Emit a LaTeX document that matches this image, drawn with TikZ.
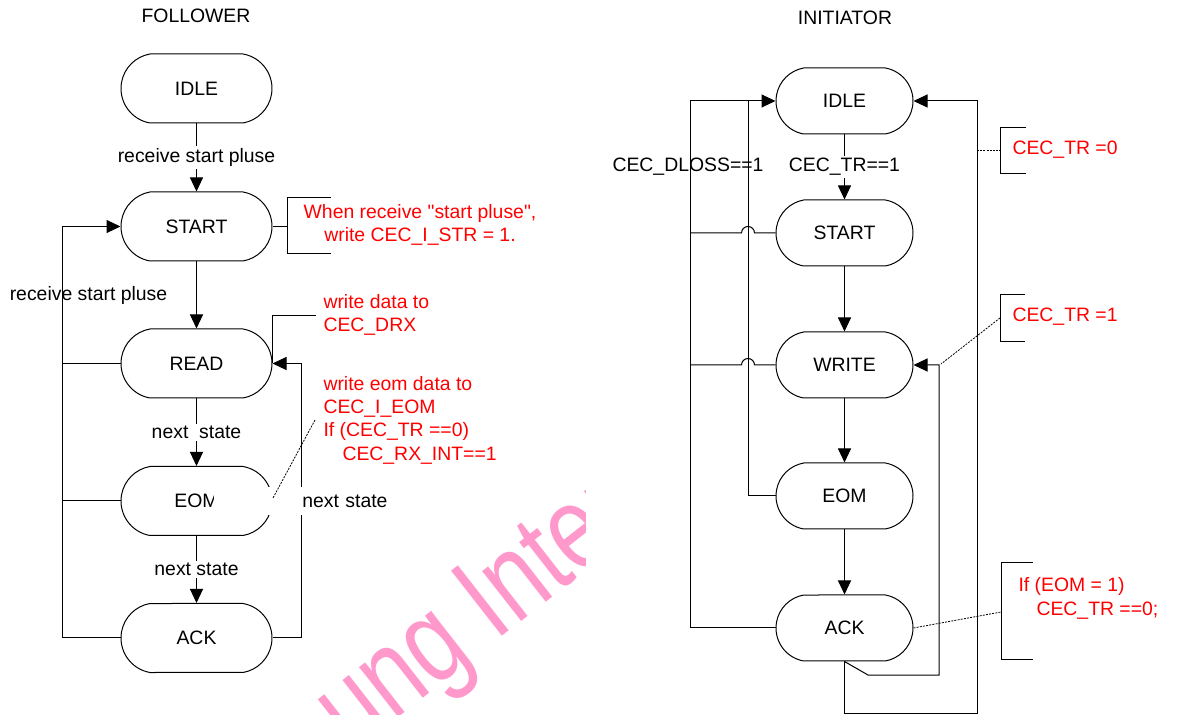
\documentclass[tikz,border=0pt]{standalone}
\usepackage{fontspec}
\setmainfont{Liberation Sans}
\usetikzlibrary{arrows.meta, shapes.misc}

\definecolor{wmark}{RGB}{255,153,204}

\tikzset{
  state/.style={draw, rounded rectangle, rounded rectangle arc length=160, inner sep=0pt},
  fstate/.style={state, minimum width=75.5pt, minimum height=34.5pt},
  istate/.style={state, minimum width=68.5pt, minimum height=33pt},
  lbl/.style={fill=white, inner sep=1pt},
  note/.style={text=red, align=left, inner sep=0pt},
  leader/.style={dash pattern=on 1pt off 0.6pt, line width=0.4pt},
}

\begin{document}
\begin{tikzpicture}[x=0.5pt, y=-0.5pt, line width=0.5pt,
    >={Triangle[length=7pt,width=6.5pt]},
    font=\fontsize{9.7}{11.65}\selectfont]
\useasboundingbox (0,0) rectangle (1178,715);

% watermark
\begin{scope}
  \clip (0,470) rectangle (585,715);
  \node[text=wmark, font=\fontsize{60}{60}\selectfont, rotate=38, xscale=0.78, anchor=base west] (wm) at (348,757) {ung Inter};
\end{scope}

% follower
\node (ftitle) at (196,16) {FOLLOWER};
\node[fstate] (fidle) at (196.5,88.5) {IDLE};
\node[fstate] (fstart) at (196.5,226.5) {START};
\node[fstate] (fread) at (196.5,363.5) {READ};
\node[fstate] (feom) at (196.5,501) {EOM};
\node[fstate] (fack) at (196.5,638) {ACK};
\draw[->] (fidle.south) -- node[lbl]{receive start pluse} (fstart.north);
\draw[->] (fstart.south) -- (fread.north);
\draw[->] (fread.south) -- node[lbl]{next\ \ state} (feom.north);
\draw[->] (feom.south) -- node[lbl]{next state} (fack.north);
\coordinate (fl) at (62,0);
\coordinate (fr) at (301,0);
\draw[->] (fack.west) -| (fl |- fstart.west) -- (fstart.west);
\draw (fread.west) -- (fread.west -| fl);
\draw (feom.west) -- (feom.west -| fl);
\node (frecv) at (88.5,295) {receive start pluse};
\draw[->] (fack.east) -| (fr |- fread.east) -- (fread.east);
\node[fill=white, text width=87pt, align=right, inner sep=0pt, minimum height=14pt, anchor=east] (fnext) at (388,501) {next state};

% follower notes
\draw (fstart.east) -- (287,226.5);
\draw (331,198) -- (287,198) -- (287,254) -- (331,254);
\node[note, align=center] (fn1) at (420,225) {When receive \textquotedbl start pluse\textquotedbl,\\write CEC\_I\_STR = 1.};
\draw (fread.east) |- (316,316);
\node[note, anchor=west] (fn2) at (323,315) {write data to\\CEC\_DRX};
\node[note, anchor=west] (fn3) at (323,420) {write eom data to\\CEC\_I\_EOM\\If (CEC\_TR ==0)\\\hspace*{9.5pt}CEC\_RX\_INT==1};
\coordinate (fd1) at (315,420);
\coordinate (fd2) at (273,498);
\draw[leader] (fd1) -- (fd2);

% initiator
\node (ititle) at (845,18) {INITIATOR};
\node[istate] (iidle) at (844.5,101) {IDLE};
\node[istate] (istart) at (844.5,233) {START};
\node[istate] (iwrite) at (844.5,365) {WRITE};
\node[istate] (ieom) at (844.5,496) {EOM};
\node[istate] (iack) at (844.5,628) {ACK};
\draw[->] (iidle.south) -- node[lbl]{CEC\_TR==1} (istart.north);
\draw[->] (istart.south) -- (iwrite.north);
\draw[->] (iwrite.south) -- (ieom.north);
\draw[->] (ieom.south) -- (iack.north);
\node (idloss) at (688,167) {CEC\_DLOSS==1};
\coordinate (ol) at (690,0);
\coordinate (il) at (748,0);
\coordinate (ih) at (754.5,0);
\draw[->] (iack.west) -| (ol |- iidle.west) -- (iidle.west);
\draw (istart.west) -- (istart.west -| ih) arc[start angle=0, end angle=-180, radius=6.5] -- (istart.west -| ol);
\draw (iwrite.west) -- (iwrite.west -| ih) arc[start angle=0, end angle=-180, radius=6.5] -- (iwrite.west -| ol);
\draw (ieom.west) -| (il |- iidle.west);
\coordinate (ob) at (977,713);
\coordinate (ib) at (939,675);
\draw[->] (iack.south) |- (ob) |- (iidle.east);
\draw[->] (iack.south) -- (868,675) -- (ib) |- (iwrite.east);

% initiator notes
\draw[leader] (977,150) -- (1000,150);
\draw (1026,128) -- (1000,128) -- (1000,174) -- (1026,174);
\node[note, anchor=west] (in1) at (1012,150) {CEC\_TR =0};
\draw[leader] (1000,318) -- (941,364);
\draw (1025,295) -- (1000,295) -- (1000,342) -- (1025,342);
\node[note, anchor=west] (in2) at (1012,317) {CEC\_TR =1};
\draw[leader] (iack.east) -- (1001,612);
\draw (1033,563) -- (1001,563) -- (1001,660) -- (1033,660);
\node[note, anchor=west] (in3) at (1018,598.5) {If (EOM = 1)\\\hspace*{9pt}CEC\_TR ==0;};
\end{tikzpicture}
\end{document}
